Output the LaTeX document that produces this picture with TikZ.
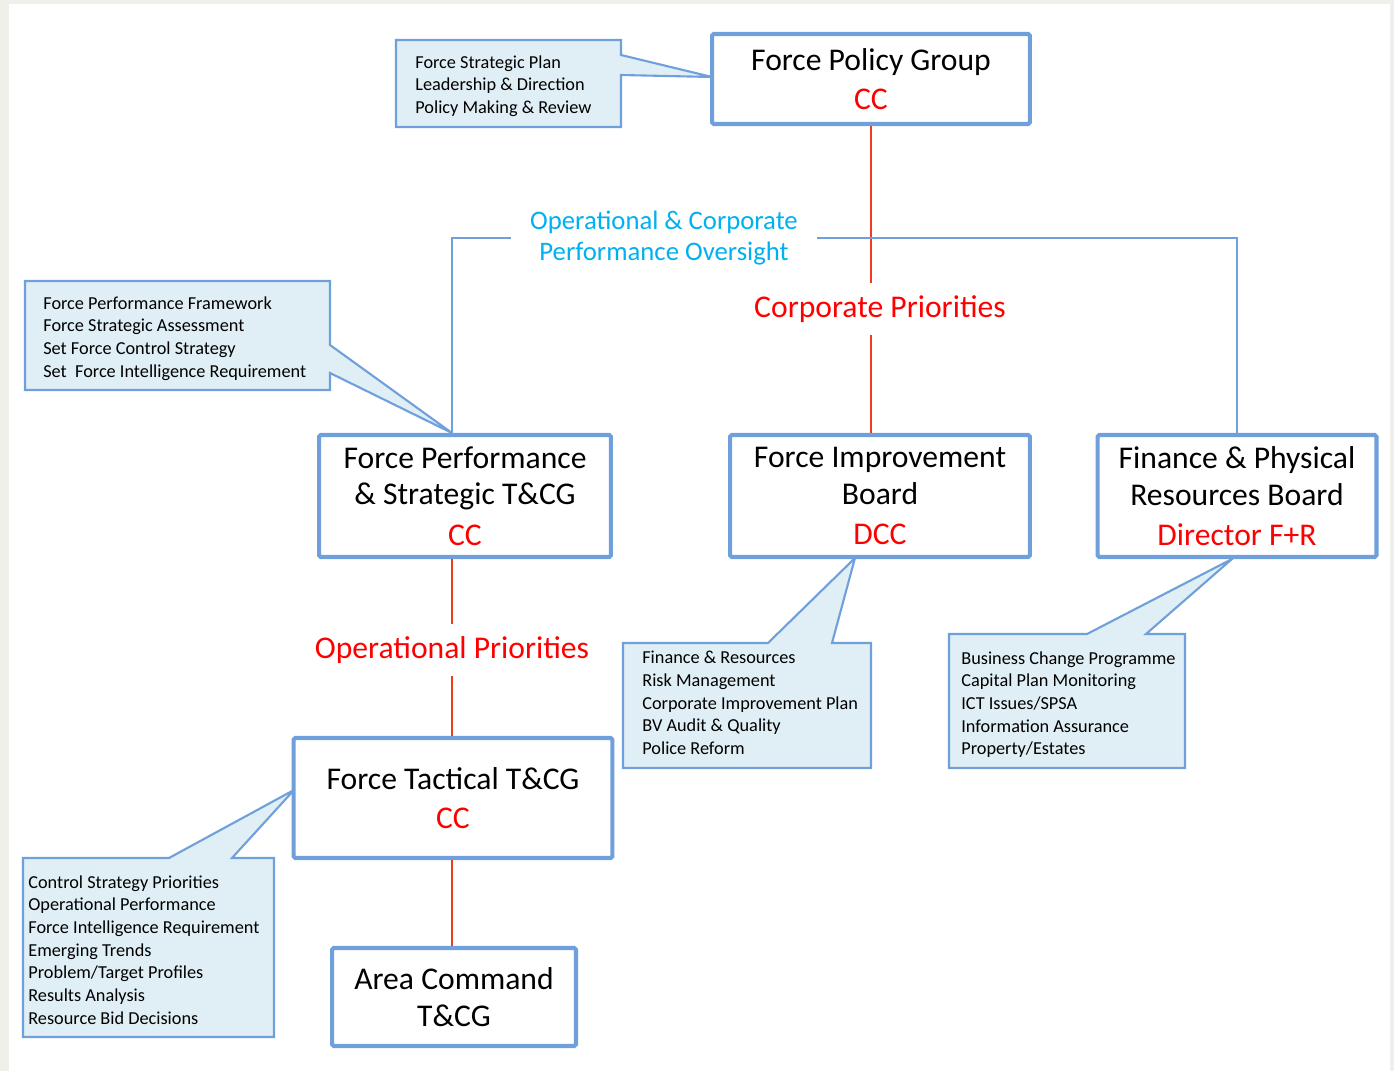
\documentclass[tikz,border=0pt]{standalone}
\usepackage{fontspec}
\setmainfont{Carlito}
\usepackage{tikz}
\usetikzlibrary{backgrounds}
\definecolor{boxblue}{HTML}{6FA0DC}
\definecolor{notefill}{HTML}{E0EFF5}
\definecolor{pagebg}{HTML}{F0F0EA}
\definecolor{cyantext}{HTML}{00B0F0}
\definecolor{linered}{HTML}{F23A1E}
\tikzset{board/.style={draw=boxblue,line width=2.3pt,fill=white,align=center,rounded corners=1pt,font=\fontsize{18}{21}\selectfont}}
\tikzset{note/.style={align=left,inner sep=0pt,font=\fontsize{10.4}{12.9}\selectfont}}
\tikzset{callout/.style={draw=boxblue,fill=notefill,line width=1.2pt,line join=miter}}
\tikzset{prio/.style={text=red,inner sep=7pt,font=\fontsize{18}{21}\selectfont}}
\tikzset{oversight/.style={text=cyantext,align=center,inner xsep=11pt,font=\fontsize{15.2}{18}\selectfont}}
\tikzset{redline/.style={linered,line width=1.1pt}}
\tikzset{blueline/.style={boxblue,line width=1.2pt}}

\begin{document}
\begin{tikzpicture}[x=0.02cm,y=-0.02cm]
  \useasboundingbox (0,0) rectangle (1394,1071);
  \begin{scope}[on background layer]
    \fill[pagebg] (0,0) rectangle (1394,1071);
    \fill[white] (9,4) rectangle (1390,1071);
    \draw[callout] (396,40) -- (621,40) -- (621,55) -- (712,77) -- (621,75) -- (621,127) -- (396,127) -- cycle;
    \draw[callout] (25,281) -- (330,281) -- (330,345) -- (452,433) -- (330,373) -- (330,390) -- (25,390) -- cycle;
    \draw[callout] (623,643) -- (768,643) -- (855,558) -- (832,643) -- (871,643) -- (871,768) -- (623,768) -- cycle;
    \draw[callout] (949,634) -- (1087,634) -- (1232,559) -- (1146,634) -- (1185,634) -- (1185,768) -- (949,768) -- cycle;
    \draw[callout] (23,858) -- (169,858) -- (294,790) -- (232,858) -- (274,858) -- (274,1037) -- (23,1037) -- cycle;
  \end{scope}

  % boards
  \node[board, minimum width=6.36cm, minimum height=1.8cm] (fpg) at (871,79) {Force Policy Group\\[1pt]\textcolor{red}{CC}};
  \node[board, minimum width=5.84cm, minimum height=2.44cm] (fps) at (465,496) {Force Performance\\\& Strategic T\&CG\\[2pt]\textcolor{red}{CC}};
  \node[board, minimum width=6.0cm, minimum height=2.44cm] (fib) at (880,496) {Force Improvement\\Board\\[2pt]\textcolor{red}{DCC}};
  \node[board, minimum width=5.58cm, minimum height=2.44cm] (fpr) at (1237,496) {Finance \& Physical\\Resources Board\\[2pt]\textcolor{red}{Director F+R}};
  \node[board, minimum width=6.38cm, minimum height=2.4cm] (ft) at (453,798) {Force Tactical T\&CG\\[1pt]\textcolor{red}{CC}};
  \node[board, minimum width=4.88cm, minimum height=1.96cm] (ac) at (454,997) {Area Command\\T\&CG};

  % labels on the links
  \node[oversight] (over) at (664,238) {Operational \& Corporate\\Performance Oversight};
  \node[prio] (corp) at (880,309) {Corporate Priorities};
  \node[prio] (oper) at (452,650) {Operational Priorities};

  % notes
  \node[note, anchor=north west] (c1) at (415,55) {Force Strategic Plan\\Leadership \& Direction\\Policy Making \& Review};
  \node[note, anchor=north west] (c2) at (43,296) {Force Performance Framework\\Force Strategic Assessment\\Set Force Control Strategy\\Set\ \ Force Intelligence Requirement};
  \node[note, anchor=north west] (c3) at (642,651) {Finance \& Resources\\Risk Management\\Corporate Improvement Plan\\BV Audit \& Quality\\Police Reform};
  \node[note, anchor=north west] (c4) at (961,651) {Business Change Programme\\Capital Plan Monitoring\\ICT Issues/SPSA\\Information Assurance\\Property/Estates};
  \node[note, anchor=north west] (c5) at (28,875) {Control Strategy Priorities\\Operational Performance\\Force Intelligence Requirement\\Emerging Trends\\Problem/Target Profiles\\Results Analysis\\Resource Bid Decisions};

  % links
  \draw[redline] (fpg.south) -- (fpg.south |- corp.north);
  \draw[redline] (fpg.south |- corp.south) -- (fpg.south |- fib.north);
  \draw[redline] (fps.south -| oper) -- (oper.north);
  \draw[redline] (oper.south) -- (ft.north -| oper);
  \draw[redline] (ft.south -| oper) -- (ac.north -| oper);
  \draw[blueline] (fps.north -| oper) |- (over.west);
  \draw[blueline] (over.east) -| (fpr.north);
\end{tikzpicture}
\end{document}
